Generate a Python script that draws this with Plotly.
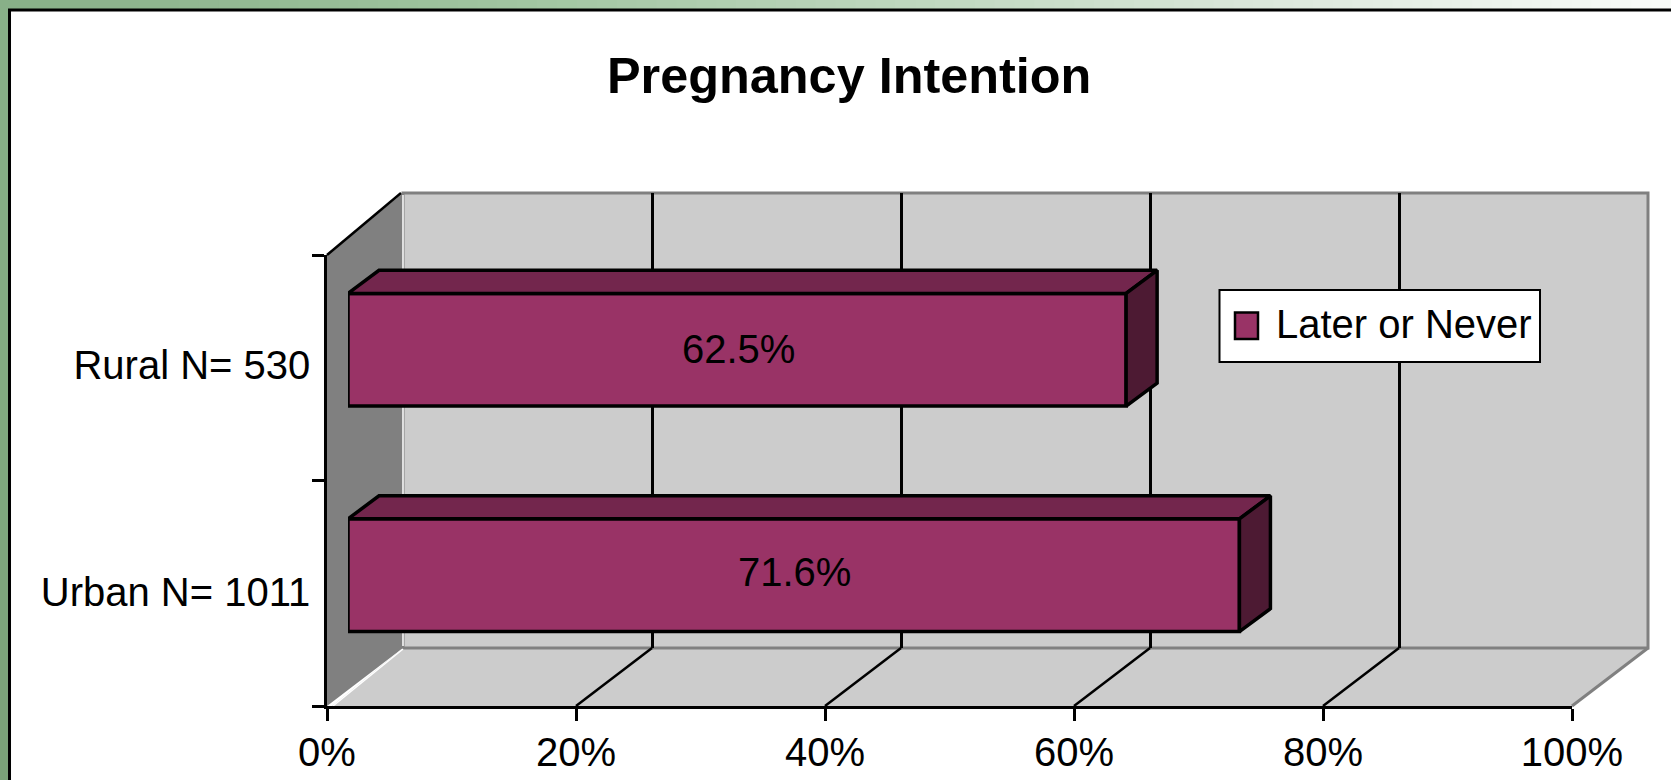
import plotly.graph_objects as go

W, H = 1671, 780

# ---- data ----
categories = ["Urban N= 1011", "Rural N= 530"]
series_name = "Later or Never"
values = [71.6, 62.5]
x_ticks = [0, 20, 40, 60, 80, 100]
y_positions = [0, 1]

# ---- styles ----
BAR = "#993366"
BAR_TOP = "#73264D"
BAR_SIDE = "#4D1A33"
WALL = "#CCCCCC"
SIDE_WALL = "#808080"
FONT = "Liberation Sans, Arial, sans-serif"
TEXT_SIZE = 40


def px(x):
    return x / W


def py(y):
    return 1 - y / H


# plot geometry in page pixels
X0, X1 = 327, 1572          # front axis 0..100 %
Y0, Y1 = 706, 255           # front axis bottom, top
BX, BY_BOTTOM, BY_TOP = 76, 648, 193   # back wall
BAR_SHIFT_X, BAR_SHIFT_Y = 21, 18
DEPTH_X, DEPTH_Y = 31, 23
px_per_pct = (X1 - X0) / 100
px_per_cat = (Y0 - Y1) / 2

fig = go.Figure()


def poly(points, fill=None, line=None, width=0, layer="below"):
    path = "M" + " L".join(f"{px(a):.5f},{py(b):.5f}" for a, b in points) + (" Z" if fill else "")
    return dict(type="path", xref="paper", yref="paper", path=path, layer=layer,
                fillcolor=fill if fill else "rgba(0,0,0,0)",
                line=dict(color=line if line else "rgba(0,0,0,0)", width=width))


def lerp_color(pos, stops):
    for (s0, c0), (s1, c1) in zip(stops, stops[1:]):
        if s0 <= pos <= s1:
            t = (pos - s0) / (s1 - s0)
            return "rgb" + str(tuple(round(u + (v - u) * t) for u, v in zip(c0, c1)))
    return "rgb" + str(stops[-1][1])


shapes = []

# page frame: green strips with a fading gradient along the top
top_stops = [(0, (136, 176, 136)), (500, (160, 197, 160)), (900, (190, 215, 190)),
             (1300, (222, 233, 222)), (1671, (250, 252, 250))]
n = 84
for i in range(n):
    xa = W * i / n
    xb = W * (i + 1) / n + 1
    shapes.append(poly([(xa, 0), (xb, 0), (xb, 9), (xa, 9)], fill=lerp_color(xa, top_stops)))
left_stops = [(0, (136, 176, 136)), (780, (122, 162, 120))]
n = 26
for i in range(n):
    ya = H * i / n
    yb = H * (i + 1) / n + 1
    shapes.append(poly([(0, ya), (8, ya), (8, yb), (0, yb)], fill=lerp_color(ya, left_stops)))
shapes.append(poly([(9.5, H), (9.5, 10), (W, 10)], line="black", width=3))

bx0 = X0 + BX
bx1 = X1 + BX
# back wall, side wall, floor
shapes.append(poly([(bx0, BY_TOP), (bx1, BY_TOP), (bx1, BY_BOTTOM), (bx0, BY_BOTTOM)], fill=WALL))
shapes.append(poly([(X0, Y1), (bx0, BY_TOP), (bx0, BY_BOTTOM), (X0, Y0)], fill=SIDE_WALL))
shapes.append(poly([(X0 + 5, Y0), (bx0, BY_BOTTOM), (bx1, BY_BOTTOM), (X1, Y0)], fill=WALL))
# wall edges
shapes.append(poly([(bx0, BY_TOP), (bx1, BY_TOP), (bx1, BY_BOTTOM), (bx0, BY_BOTTOM)], fill="rgba(0,0,0,0)", line=SIDE_WALL, width=3))
shapes.append(poly([(bx1, BY_BOTTOM), (X1, Y0)], line=SIDE_WALL, width=3))
shapes.append(poly([(bx0, BY_TOP + 2), (bx0, BY_BOTTOM - 2)], line="white", width=1.5))
shapes.append(poly([(X0 + 6, Y0), (bx0, BY_BOTTOM + 1)], line="white", width=1.5))
shapes.append(poly([(X0, Y1), (bx0 - 2, BY_TOP)], line="black", width=2.5))
# floor gridlines, one per tick
for t in x_ticks[1:-1]:
    fx = X0 + t * px_per_pct
    shapes.append(poly([(fx, Y0), (fx + BX, BY_BOTTOM)], line="black", width=2.5))

# ---- invisible traces that keep the axes alive ----
fig.add_trace(go.Scatter(x=[0], y=[0], mode="markers", marker=dict(opacity=0),
                         showlegend=False, hoverinfo="skip", xaxis="x", yaxis="y"))
# back wall gridlines live on their own axes, shifted to the back plane
fig.add_trace(go.Scatter(x=[0], y=[0], mode="markers", marker=dict(opacity=0),
                         showlegend=False, hoverinfo="skip", xaxis="x2", yaxis="y2"))

# ---- 3D bar faces, derived from values through the bar axes ----
dx = DEPTH_X / px_per_pct
dy = DEPTH_Y / px_per_cat
half = 0.25
for v, p in zip(values, y_positions):
    fig.add_trace(go.Scatter(
        x=[0, v, v + dx, dx, 0],
        y=[p + half, p + half, p + half + dy, p + half + dy, p + half],
        mode="lines", fill="toself", fillcolor=BAR_TOP, cliponaxis=False,
        line=dict(color="black", width=3.5), showlegend=False, hoverinfo="skip",
        xaxis="x3", yaxis="y3"))
    fig.add_trace(go.Scatter(
        x=[v, v + dx, v + dx, v, v],
        y=[p - half, p - half + dy, p + half + dy, p + half, p - half],
        mode="lines", fill="toself", fillcolor=BAR_SIDE, cliponaxis=False,
        line=dict(color="black", width=3.5), showlegend=False, hoverinfo="skip",
        xaxis="x3", yaxis="y3"))

fig.add_trace(go.Bar(
    x=values, y=y_positions, orientation="h", width=0.5, name=series_name,
    marker=dict(color=BAR, line=dict(color="black", width=3.5)),
    showlegend=False, xaxis="x3", yaxis="y3", cliponaxis=False))

# value labels sit in the middle of each bar
value_labels = [
    dict(text=f"{v:.1f}%", xref="x3", yref="y3", x=v / 2, y=p, xshift=1, yshift=shift,
         xanchor="center", yanchor="middle", showarrow=False,
         font=dict(size=TEXT_SIZE, color="black", family=FONT))
    for v, p, shift in zip(values, y_positions, [3, 1])
]

# ---- legend box ----
shapes_above = [
    dict(type="rect", xref="paper", yref="paper", x0=px(1219.5), x1=px(1540), y0=py(362), y1=py(290),
         fillcolor="white", line=dict(color="black", width=2), layer="above"),
    dict(type="rect", xref="paper", yref="paper", x0=px(1235), x1=px(1258), y0=py(339), y1=py(312.5),
         fillcolor=BAR, line=dict(color="black", width=2.5), layer="above"),
]

fig.update_layout(
    width=W, height=H, autosize=False,
    margin=dict(l=0, r=0, t=0, b=0, pad=0, autoexpand=False), showlegend=False,
    paper_bgcolor="white", plot_bgcolor="rgba(0,0,0,0)",
    font=dict(family=FONT, color="black", size=TEXT_SIZE),
    shapes=shapes + shapes_above,
    barmode="overlay",
    annotations=value_labels + [
        dict(text="<b>Pregnancy Intention</b>", xref="paper", yref="paper", x=px(848.5), y=py(75),
             xanchor="center", yanchor="middle", showarrow=False, font=dict(size=50.4, family=FONT)),
        dict(text=series_name, xref="paper", yref="paper", x=px(1274), y=py(324),
             xanchor="left", yanchor="middle", showarrow=False, font=dict(size=TEXT_SIZE, family=FONT)),
    ],
    xaxis=dict(domain=[px(X0), px(X1)], range=[0, 100], tickvals=x_ticks,
               ticktext=[f"{t}%" for t in x_ticks], ticks="outside", ticklen=12, tickwidth=2.5,
               tickcolor="black", showline=True, linecolor="black", linewidth=2.5,
               showgrid=False, zeroline=False, tickfont=dict(size=TEXT_SIZE), ticklabelstandoff=-3, anchor="y"),
    yaxis=dict(domain=[py(Y0), py(Y1)], range=[0, 2], tickvals=[0.505, 1.514], ticktext=categories,
               ticks="outside", ticklen=6, tickcolor="rgba(0,0,0,0)",
               minor=dict(tickvals=[0, 1, 2], ticks="outside", ticklen=12, tickwidth=2.5, tickcolor="black"),
               showline=True, linecolor="black", linewidth=2.5, showgrid=False, zeroline=False,
               tickfont=dict(size=TEXT_SIZE), anchor="x"),
    xaxis2=dict(domain=[px(bx0), px(bx1)], range=[0, 100], tickvals=x_ticks[1:-1], showticklabels=False,
                ticks="", showgrid=True, gridcolor="black", gridwidth=2.5, zeroline=False, showline=False,
                anchor="y2"),
    yaxis2=dict(domain=[py(BY_BOTTOM), py(BY_TOP)], range=[0, 1], showticklabels=False, ticks="",
                showgrid=False, zeroline=False, showline=False, anchor="x2"),
    xaxis3=dict(domain=[px(X0 + BAR_SHIFT_X), px(X1 + BAR_SHIFT_X)], range=[0, 100], visible=False,
                anchor="y3"),
    yaxis3=dict(domain=[py(Y0 - BAR_SHIFT_Y), py(Y1 - BAR_SHIFT_Y)], range=[-0.5, 1.5], visible=False,
                anchor="x3"),
)

fig.write_html("out.html", config=dict(displayModeBar=False),
               post_script="document.body.style.margin='0';window.dispatchEvent(new Event('resize'));")
